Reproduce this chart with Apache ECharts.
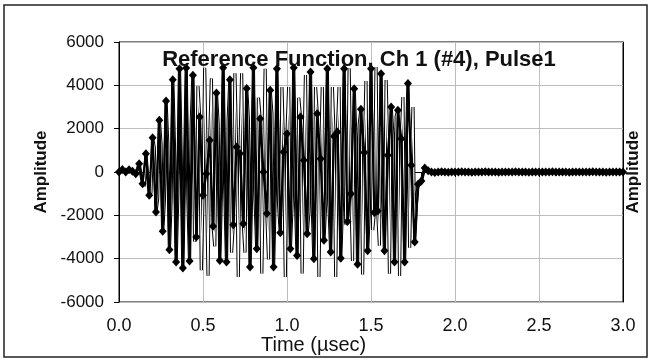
<!DOCTYPE html>
<html>
<head>
<meta charset="utf-8">
<script src="https://cdn.jsdelivr.net/npm/echarts@6/dist/echarts.min.js"></script>
<style>
  html, body { margin: 0; padding: 0; background: #ffffff; }
  #chart { width: 650px; height: 364px; }
</style>
</head>
<body>
<div id="chart"></div>
<script>
// Sample spacing of the marked (diamond) series, in µs
var sampleStep = 0.02;

// Diamond-marked samples, one every 0.02 µs from t = 0 (151 samples to 3.0 µs)
var diamondY = [
  0, 120, 0, 100, 40, -80,
  385, -540, 846, -1077, 1585, -1846, 2385, -2740, 3277, -3585, 4262, -4154,
  4770, -4430, 4800, -4108, 4462, -3000, 2540, -1077, -77, 1460, -2500, 3650,
  -4080, 4815, -4150, 4260, -2430, 1150, 850, -2390, 3850, -4380, 4815, -3540,
  2460, 0, -1920, 3770, -4380, 4770, -2800, 920, 1770, -3540, 4815, -3850,
  2540, 540, -2850, 4615, -4000, 2690, 615, -3150, 4770, -3690, 1650, 1850,
  -3980, 4770, -2280, -1000, 3840, -4260, 2900, 900, -3640, 4770, -1870, -1800,
  4540, -3640, 770, 3000, -4150, 2850, 1540, -4150, 4080, 310, -3230, -570,
  -420, 180, 60, 0, -20, 0, 10, 0, -10, 0,
  0, 0, 10, 0, 0, -10, 0, 0, 0, 10,
  0, 0, 0, -10, 0, 0, 0, 0, 10, 0,
  0, 0, -10, 0, 0, 0, 0, 0, 0, 10,
  0, 0, 0, 0, -10, 0, 0, 0, 0, 0,
  0, 10, 0, 0, 0, -10, 0, 0, 0, 0,
  0
];

// Unmarked in-between samples of the fine trace (midway between diamonds)
var midY = [
  40, 60, 50, 60, 0, 150,
  475, -670, 830, -960, 1120, -1220, 1290, -1330, 1340, -1300, 1220, -1050,
  700, 0, -1170, 2280, -3210, 3970, -4530, 4810, -4790, 4320, -3430, 2200,
  -760, -840, 2425, -3720, 4560, -4850, 4560, -3720, 2425, -840, -1260, 3430,
  -4680, 4760, -4040, 2710, -970, -1500, 3920, -4850, 3920, -1500, -1260, 3430,
  -4680, 4480, -1860, -1500, 3920, -4850, 3920, -1500, -1500, 3920, -4850, 3920,
  -1500, -2425, 4790, -4110, 1580, 2180, -4730, 4200, -1700, -2680, 4850, -3400,
  -840, 4240, -4700, 1740, 2570, -4800, 3460, 550, -3500, 3000, -1500, -550,
  -100, 150, 30, 0, -10, 0, 0, 0, 0, 0,
  0, 0, 0, 0, 0, 0, 0, 0, 0, 0,
  0, 0, 0, 0, 0, 0, 0, 0, 0, 0,
  0, 0, 0, 0, 0, 0, 0, 0, 0, 0,
  0, 0, 0, 0, 0, 0, 0, 0, 0, 0,
  0, 0, 0, 0, 0, 0, 0, 0, 0, 0
];

var xTicks = [0, 0.5, 1.0, 1.5, 2.0, 2.5, 3.0];
var yTicks = [-6000, -4000, -2000, 0, 2000, 4000, 6000];
var titleText = 'Reference Function, Ch 1 (#4), Pulse1';
var xName = 'Time (\u00b5sec)';
var yName = 'Amplitude';

var diamondData = diamondY.map(function (v, i) { return [+(i * sampleStep).toFixed(3), v]; });
var fineData = [];
for (var i = 0; i < diamondY.length; i++) {
  fineData.push([+(i * sampleStep).toFixed(3), diamondY[i]]);
  if (i < midY.length) fineData.push([+(i * sampleStep + sampleStep / 2).toFixed(3), midY[i]]);
}

var FONT = '"Liberation Sans", Arial, Helvetica, sans-serif';
var chart = echarts.init(document.getElementById('chart'), null, { renderer: 'canvas' });
chart.setOption({
  animation: false,
  backgroundColor: '#ffffff',
  title: {
    text: titleText,
    left: 354, top: 44, textAlign: 'center',
    textStyle: { fontFamily: FONT, fontSize: 22, fontWeight: 'bold', color: '#111' }
  },
  grid: { left: 119, right: 25, top: 42, bottom: 62, show: true, borderColor: '#000', borderWidth: 1, backgroundColor: 'transparent' },
  xAxis: {
    type: 'value', min: xTicks[0], max: xTicks[xTicks.length - 1], interval: 0.5,
    axisLine: { lineStyle: { color: '#000', width: 1 } },
    axisTick: { show: true, inside: false, length: 5, lineStyle: { color: '#000' } },
    minorTick: { show: true, splitNumber: 5, length: 4, lineStyle: { color: '#000' } },
    splitLine: { show: true, lineStyle: { color: '#bdbdbd', width: 1 } },
    axisLabel: { fontFamily: FONT, fontSize: 18, color: '#111', margin: 15, formatter: function (v) { return v.toFixed(1); } }
  },
  yAxis: [{
    type: 'value', min: yTicks[0], max: yTicks[yTicks.length - 1], interval: 2000,
    name: yName, nameLocation: 'middle', nameRotate: 90, nameGap: 62,
    nameTextStyle: { fontFamily: FONT, fontSize: 17, fontWeight: 'bold', color: '#111' },
    axisLine: { show: true, lineStyle: { color: '#000', width: 1 } },
    axisTick: { show: true, inside: false, length: 5, lineStyle: { color: '#000' } },
    splitLine: { show: true, lineStyle: { color: '#bdbdbd', width: 1 } },
    axisLabel: { fontFamily: FONT, fontSize: 17, color: '#111', margin: 15, formatter: function (v) { return String(v); } }
  }, {
    type: 'value', min: yTicks[0], max: yTicks[yTicks.length - 1], interval: 2000,
    position: 'right',
    name: yName, nameLocation: 'middle', nameRotate: 90, nameGap: 2,
    nameTextStyle: { fontFamily: FONT, fontSize: 17, fontWeight: 'bold', color: '#111' },
    axisLine: { show: true, lineStyle: { color: '#000', width: 1 } },
    axisTick: { show: false }, axisLabel: { show: false }, splitLine: { show: false }
  }],
  graphic: [
    { type: 'rect', shape: { x: 4, y: 5, width: 643, height: 352 }, style: { fill: 'none', stroke: '#222', lineWidth: 1.5 }, silent: true, z: 100 },
    { type: 'text', left: 261, top: 335, style: { text: xName, font: '20px ' + FONT, fill: '#111' }, z: 100 }
  ],
  series: [{
    type: 'line', data: fineData, showSymbol: false, symbol: 'none',
    lineStyle: { color: '#000', width: 3.2 }, z: 2
  }, {
    type: 'line', data: fineData, showSymbol: false, symbol: 'none',
    lineStyle: { color: '#ffffff', width: 1.2 }, z: 3
  }, {
    type: 'line', data: diamondData, symbol: 'diamond', symbolSize: [8, 9],
    itemStyle: { color: '#000' }, lineStyle: { color: '#000', width: 2.2 }, z: 4
  }]
});
</script>
</body>
</html>
